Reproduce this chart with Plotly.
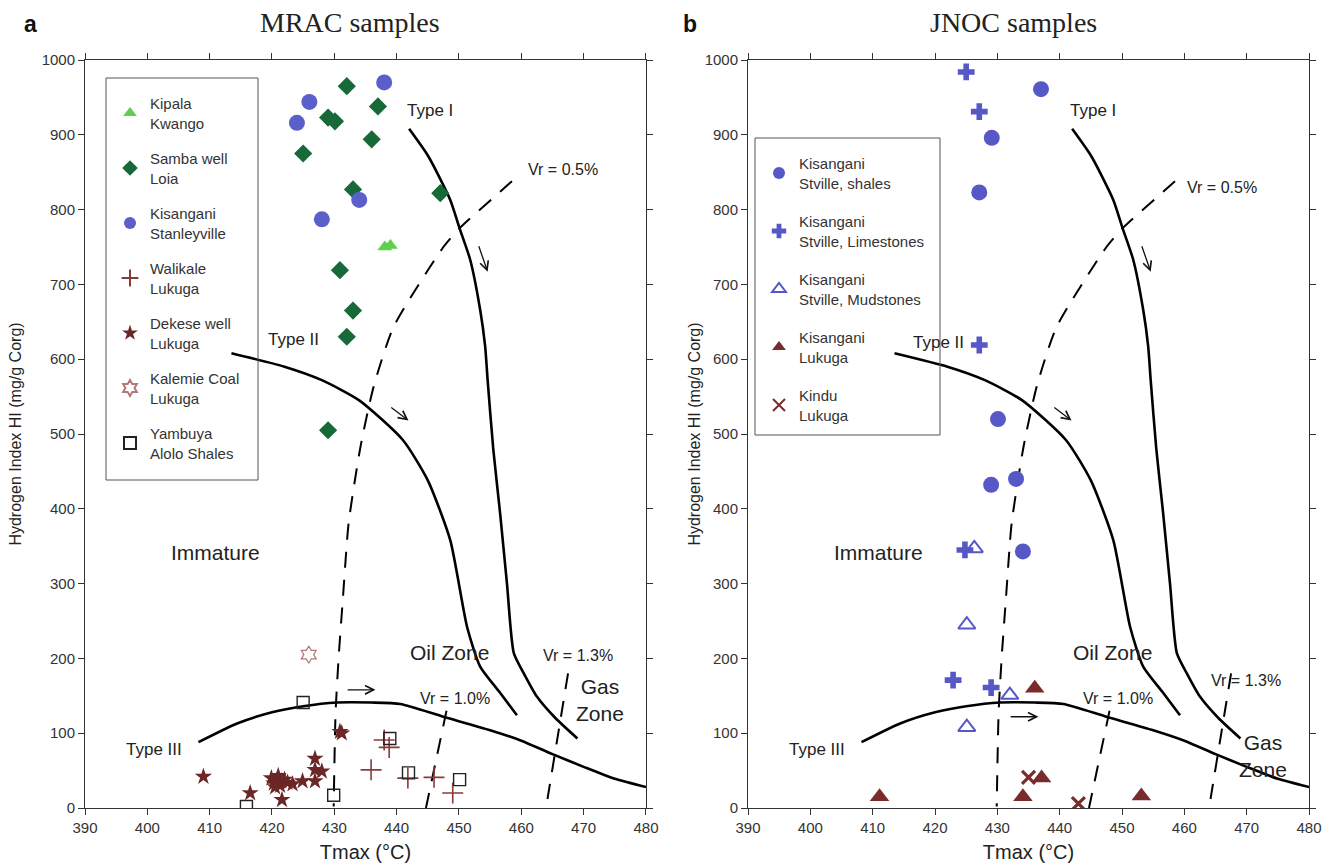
import plotly.graph_objects as go

# ---------------- data: MRAC samples (panel a) ----------------
kipala_x = [438.1, 439.0]
kipala_y = [750, 752]

samba_x = [432.0, 437.0, 429.0, 430.1, 436.0, 425.0, 433.0, 447.0, 430.9, 433.0, 432.0, 429.0]
samba_y = [965, 938, 923, 918, 894, 875, 827, 822, 719, 665, 630, 505]

stanley_x = [438.0, 426.0, 424.0, 434.0, 428.0]
stanley_y = [970, 944, 916, 813, 787]

walikale_x = [438.0, 438.8, 435.9, 441.8, 446.0, 449.0]
walikale_y = [91, 81, 51, 40, 41, 20]

dekese_x = [409.0, 416.5, 421.6, 419.9, 420.3, 420.5, 420.8, 421.0, 421.3, 421.5, 422.0,
            422.5, 423.3, 424.9, 426.9, 426.9, 428.0, 426.9, 430.9, 431.2]
dekese_y = [42, 20, 11, 40, 33, 28, 37, 43, 30, 36, 38, 34, 32, 36, 66, 51, 49, 36, 102, 100]

kalemie_x = [425.9]
kalemie_y = [205]

yambuya_x = [425.0, 438.9, 441.9, 450.1, 429.9, 415.9]
yambuya_y = [141, 93, 47, 38, 17, 2]

# ---------------- data: JNOC samples (panel b) ----------------
shales_x = [437.0, 429.1, 427.1, 430.1, 433.0, 429.0, 434.1]
shales_y = [961, 896, 823, 520, 440, 432, 343]

lime_x = [425.0, 427.1, 427.1, 424.8, 422.9, 429.0]
lime_y = [984, 931, 619, 345, 171, 161]

mud_x = [426.3, 425.1, 432.0, 425.1]
mud_y = [347, 245, 151, 108]

kis_luk_x = [436.0, 437.1, 434.1, 453.1, 411.1]
kis_luk_y = [160, 40, 15, 16, 15]

kindu_x = [435.0, 443.0]
kindu_y = [41, 6]

# ---------------- maturation / type curves (shared) ----------------
type1_x = [442.0, 445.1, 448.6, 450.1, 451.8, 453.4, 454.2, 454.6, 455.5, 456.6, 457.7, 458.8, 460.4, 462.5, 465.5, 469.0]
type1_y = [908, 871, 813, 775, 733, 666, 617, 572, 480, 394, 300, 207, 180, 149, 120, 93]

type2_x = [413.5, 422.0, 428.0, 434.0, 441.0, 445.0, 448.6, 451.3, 453.4, 456.5, 459.3]
type2_y = [608, 590, 572, 545, 492, 438, 358, 242, 189, 155, 124]

type3_x = [408.2, 414.4, 420.0, 425.0, 430.4, 436.0, 440.6, 447.5, 455.0, 460.0, 465.0, 470.0, 475.0, 480.0]
type3_y = [88, 113, 128, 136, 141, 141, 139, 122, 104, 90, 72, 55, 39, 28]

vr05_x = [458.5, 456.6, 450.1, 447.5, 439.5, 436.3, 434.2, 432.3, 431.4, 430.7, 430.2, 429.9]
vr05_y = [838, 824, 775, 750, 643, 563, 483, 381, 283, 202, 127, 2]

vr10_x = [448.0, 444.7]
vr10_y = [130, 0]

vr13_x = [467.5, 464.2]
vr13_y = [180, 12]

XT = [390, 400, 410, 420, 430, 440, 450, 460, 470, 480]
YT = [0, 100, 200, 300, 400, 500, 600, 700, 800, 900, 1000]

# ---------------- figure ----------------
W, H = 1324, 863
ML, MR, MT, MB = 85, 15, 60, 55
PW, PH = W - ML - MR, H - MT - MB


def px2paper(px, py):
    return (px - ML) / PW, (H - MB - py) / PH


fig = go.Figure()

RED = "#8b3a3a"
BROWN = "#6b2626"
BLUE = "#5558c6"


def curves(xa, ya):
    for cx, cy in [(type1_x, type1_y), (type2_x, type2_y), (type3_x, type3_y)]:
        fig.add_trace(go.Scatter(x=cx, y=cy, mode="lines",
                                 line=dict(color="black", width=2.6, shape="spline", smoothing=0.6),
                                 showlegend=False, hoverinfo="skip", xaxis=xa, yaxis=ya))
    for cx, cy in [(vr05_x, vr05_y), (vr10_x, vr10_y), (vr13_x, vr13_y)]:
        fig.add_trace(go.Scatter(x=cx, y=cy, mode="lines",
                                 line=dict(color="black", width=2, dash="16px,12px", shape="spline", smoothing=0.6),
                                 showlegend=False, hoverinfo="skip", xaxis=xa, yaxis=ya))


curves("x", "y")
curves("x2", "y2")


def pts(x, y, name, sym, color, size, legend, lw=0):
    mk = dict(symbol=sym, size=size, color=color, line=dict(width=lw, color=color))
    xa, ya = ("x", "y") if legend == "legend" else ("x2", "y2")
    fig.add_trace(go.Scatter(x=x, y=y, mode="markers", name=name, marker=mk, legend=legend,
                             legendgroup=name, xaxis=xa, yaxis=ya))


pts(kipala_x, kipala_y, "Kipala<br>Kwango", "triangle-up", "#5fcf4d", 13, "legend")
pts(samba_x, samba_y, "Samba well<br>Loia", "diamond", "#17693a", 14, "legend")
pts(stanley_x, stanley_y, "Kisangani<br>Stanleyville", "circle", "#5b5fca", 16, "legend")
pts(walikale_x, walikale_y, "Walikale<br>Lukuga", "cross-thin-open", RED, 15, "legend", lw=1.6)
pts(dekese_x, dekese_y, "Dekese well<br>Lukuga", "star", BROWN, 13, "legend")
pts(kalemie_x, kalemie_y, "Kalemie Coal<br>Lukuga", "hexagram-open", "#b07a7a", 13, "legend", lw=1.2)
pts(yambuya_x, yambuya_y, "Yambuya<br>Alolo Shales", "square-open", "#222222", 12, "legend", lw=1.4)

pts(shales_x, shales_y, "Kisangani<br>Stville, shales", "circle", BLUE, 16, "legend2")
pts(lime_x, lime_y, "Kisangani<br>Stville, Limestones", "cross", BLUE, 14, "legend2")
pts(mud_x, mud_y, "Kisangani<br>Stville, Mudstones", "triangle-up-open", BLUE, 15, "legend2", lw=2)
pts(kis_luk_x, kis_luk_y, "Kisangani<br>Lukuga", "triangle-up", "#7a2b2b", 17, "legend2")
pts(kindu_x, kindu_y, "Kindu<br>Lukuga", "x-thin-open", "#7a2b2b", 13, "legend2", lw=3.2)

tickfont = dict(family="Arial", size=15, color="#333")
axis_common = dict(range=[390, 480], tickvals=XT, showgrid=False, zeroline=False, showline=True,
                   linecolor="#333", linewidth=1, mirror="ticks", ticks="outside", ticklen=6,
                   tickcolor="#333", tickfont=tickfont, automargin=False)
yaxis_common = dict(range=[0, 1000], tickvals=YT, showgrid=False, zeroline=False, showline=True,
                    linecolor="#333", linewidth=1, mirror="ticks", ticks="outside", ticklen=6,
                    tickcolor="#333", tickfont=tickfont, automargin=False)
xtitle = dict(text="Tmax (°C)", font=dict(family="Arial", size=20, color="#222"), standoff=9)
ytitle = "Hydrogen Index HI (mg/g Corg)"
yfont = dict(family="Arial", size=16, color="#222")

lx1, ly1 = px2paper(110, 87)
lx2, ly2 = px2paper(759, 147)

fig.update_layout(
    template="none",
    width=W, height=H, plot_bgcolor="white", paper_bgcolor="white",
    margin=dict(l=ML, r=MR, t=MT, b=MB),
    xaxis=dict(domain=[0, 0.4583], anchor="y", title=xtitle, **axis_common),
    xaxis2=dict(domain=[0.5417, 1.0], anchor="y2", title=xtitle, **axis_common),
    yaxis=dict(domain=[0, 1], anchor="x", title=dict(text=ytitle, font=yfont, standoff=16), **yaxis_common),
    yaxis2=dict(domain=[0, 1], anchor="x2", title=dict(text=ytitle, font=yfont, standoff=0), **yaxis_common),
    showlegend=True,
    legend=dict(x=lx1, y=ly1, xanchor="left", yanchor="top", borderwidth=0,
                bgcolor="rgba(0,0,0,0)", font=dict(family="Arial", size=15, color="#333"), tracegroupgap=13,
                itemsizing="constant"),
    legend2=dict(x=lx2, y=ly2, xanchor="left", yanchor="top", borderwidth=0,
                 bgcolor="rgba(0,0,0,0)", font=dict(family="Arial", size=15, color="#333"), tracegroupgap=16,
                 itemsizing="constant"),
)

# legend frames
for (x0, y0, x1, y1) in [(106, 78, 258, 480), (755, 138, 940, 435)]:
    a0, b0 = px2paper(x0, y0)
    a1, b1 = px2paper(x1, y1)
    fig.add_shape(type="rect", xref="paper", yref="paper", x0=a0, y0=b1, x1=a1, y1=b0,
                  line=dict(color="#555", width=1), fillcolor="rgba(0,0,0,0)", layer="above")

type_font = dict(family="Arial", size=17, color="#222")
vr_font = dict(family="Arial", size=16, color="#222")
big_font = dict(family="Arial", size=21, color="#222")


def labels(xr, yr, typeII_pos, gas_y, vr05_pos, vr13_pos):
    items = [
        ("Type I", 445.3, 933, type_font),
        ("Type II", typeII_pos[0], typeII_pos[1], type_font),
        ("Type III", 401.0, 78, type_font),
        ("Immature", 411.0, 341, big_font),
        ("Oil Zone", 448.5, 208, big_font),
        ("Gas<br>Zone", 472.6, gas_y, big_font),
        ("Vr = 0.5%", vr05_pos[0], vr05_pos[1], vr_font),
        ("Vr = 1.0%", 449.4, 147, vr_font),
        ("Vr = 1.3%", vr13_pos[0], vr13_pos[1], vr_font),
    ]
    for t, x, y, f in items:
        fig.add_annotation(text=t, x=x, y=y, xref=xr, yref=yr, showarrow=False, font=f,
                           xanchor="center", yanchor="middle")


labels("x", "y", (423.4, 627), 144, (466.7, 853), (469.1, 204))
labels("x2", "y2", (420.5, 623), 70, (466.0, 830), (469.9, 171))


def arrows(xr, yr, horiz_y):
    for (x0, y0, x1, y1) in [(431.9, horiz_y, 436.6, horiz_y), (438.9, 537, 441.9, 518), (453.1, 753, 454.6, 717)]:
        fig.add_annotation(x=x1, y=y1, ax=x0, ay=y0, xref=xr, yref=yr, axref=xr, ayref=yr, text="",
                           showarrow=True, arrowhead=5, arrowsize=1.3, arrowwidth=1.3, arrowcolor="#111")


arrows("x", "y", 158)
arrows("x2", "y2", 122)

# titles and panel letters
for t, px in [("MRAC samples", 350), ("JNOC samples", 1013)]:
    x, y = px2paper(px, 23)
    fig.add_annotation(text=t, x=x, y=y, xref="paper", yref="paper", xanchor="center", yanchor="middle",
                       showarrow=False, font=dict(family="Liberation Serif", size=28, color="#222"))
for t, px in [("a", 30), ("b", 690)]:
    x, y = px2paper(px, 24)
    fig.add_annotation(text="<b>" + t + "</b>", x=x, y=y, xref="paper", yref="paper",
                       xanchor="center", yanchor="middle", showarrow=False,
                       font=dict(family="Arial", size=23, color="#111"))

fig.write_html("out.html", config={"displayModeBar": False},
               post_script="document.body.style.margin='0';document.body.style.overflow='hidden';")
